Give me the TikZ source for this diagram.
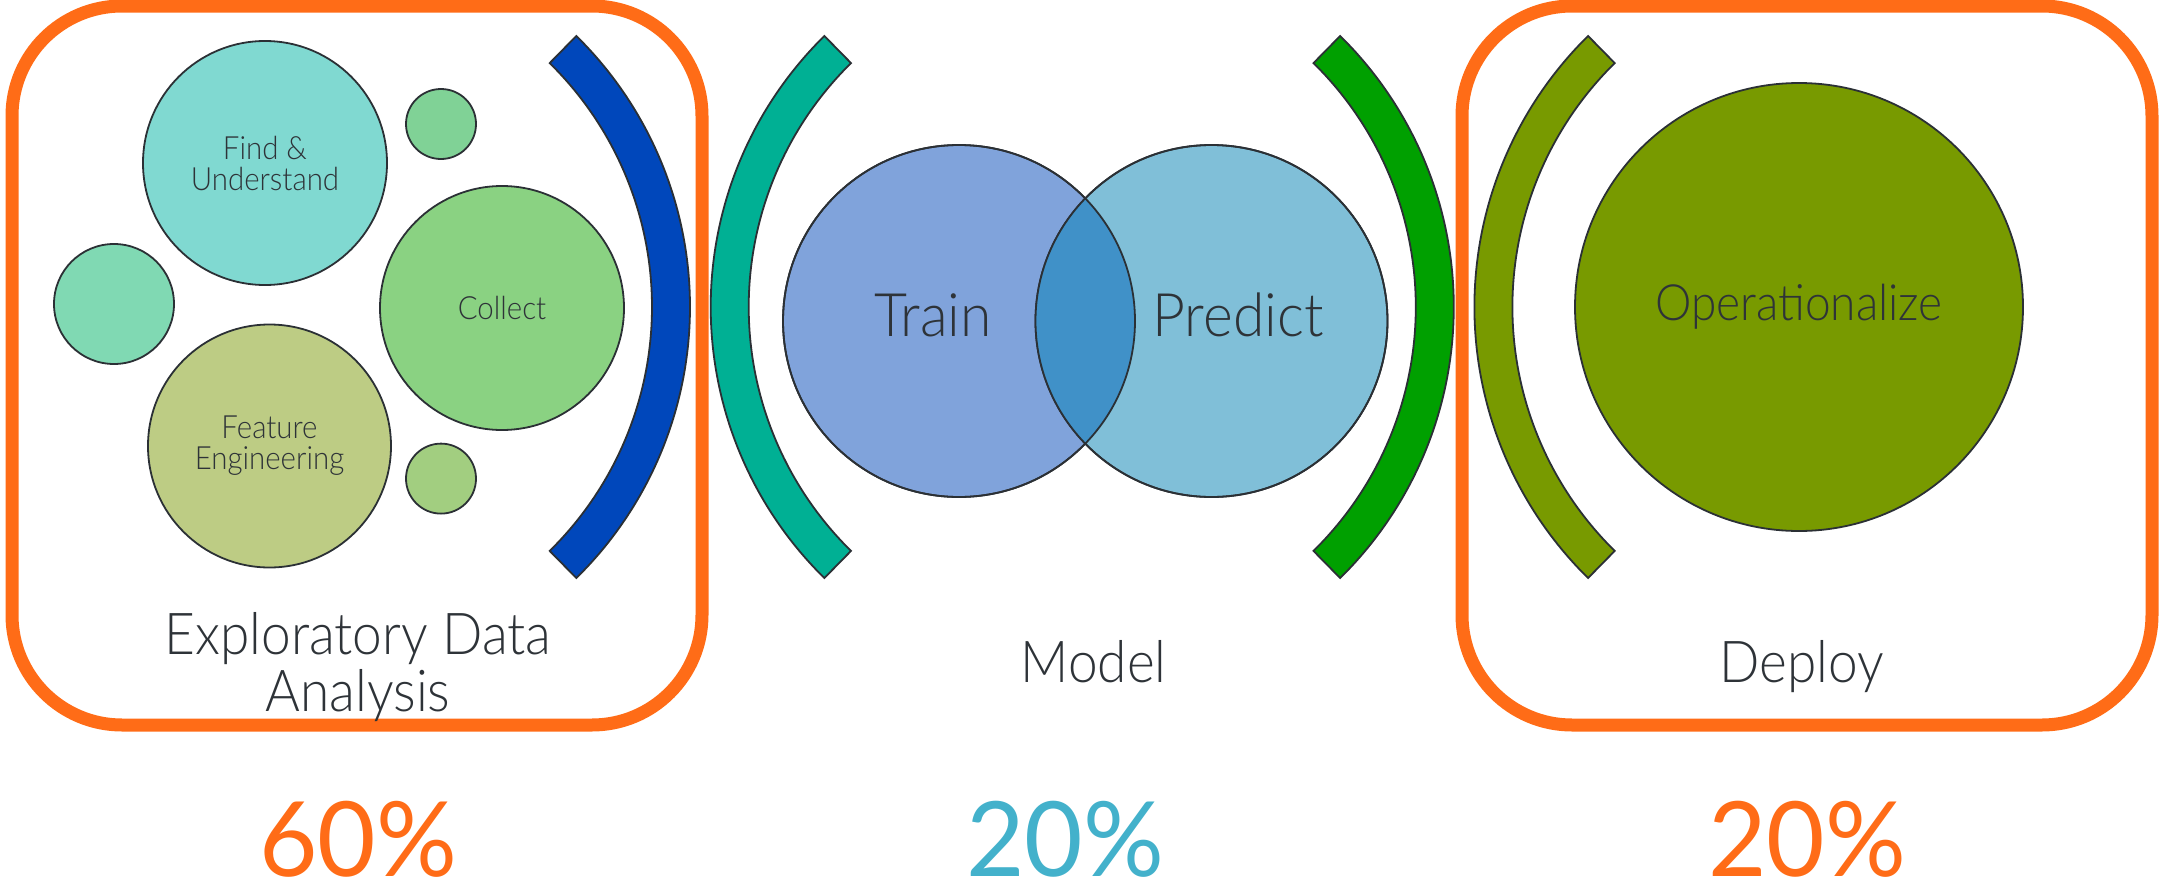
\documentclass[tikz,border=0pt]{standalone}
\usepackage{fontspec}
\setmainfont{Lato}
\newfontfamily\lightf{Lato Light}[FakeStretch=0.92]
\newfontfamily\lightt{Lato Light}[FakeStretch=0.95]
\newfontfamily\regf{Lato}[FakeStretch=0.97]
\definecolor{orangec}{HTML}{FF6C17}
\definecolor{outline}{HTML}{2B3035}
\definecolor{textc}{HTML}{2E3338}
\definecolor{findc}{HTML}{80D9D1}
\definecolor{smallga}{HTML}{80D296}
\definecolor{leftcc}{HTML}{80D9B3}
\definecolor{collectc}{HTML}{8AD282}
\definecolor{featc}{HTML}{BDCC84}
\definecolor{smallgb}{HTML}{A2CE80}
\definecolor{bluec}{HTML}{0047BB}
\definecolor{tealc}{HTML}{00B094}
\definecolor{trainc}{HTML}{80A3DB}
\definecolor{predictc}{HTML}{80BFD8}
\definecolor{overlapc}{HTML}{4091C8}
\definecolor{greenc}{HTML}{00A000}
\definecolor{olivec}{HTML}{789A00}
\definecolor{pctteal}{HTML}{43B1CB}
\begin{document}
\begin{tikzpicture}[x=0.5pt,y=-0.5pt,
  outl/.style={draw=outline, line width=0.9pt},
  bubble/.style={circle, outl, inner sep=0pt, align=center, text=textc,
    font=\lightf\fontsize{16}{15.5}\selectfont},
  obox/.style={draw=orangec, line width=6.5pt, rounded corners=55pt, inner sep=0pt},
  lbl/.style={text=textc, font=\lightf\fontsize{28.9}{28.5}\selectfont, align=center, inner sep=0pt},
  vlbl/.style={text=textc, font=\lightt\fontsize{30}{30}\selectfont, inner sep=0pt, anchor=base},
  pct/.style={font=\regf\fontsize{52}{52}\selectfont, inner sep=0pt, anchor=base, text depth=0pt}
]
\useasboundingbox (0,0) rectangle (2160,884);
% boxes
\node[obox, minimum width=345pt, minimum height=359.5pt] (edabox) at (357,365.5) {};
\node[obox, minimum width=345pt, minimum height=359.5pt] (depbox) at (1807,365.5) {};
% brackets
\coordinate (bc1) at (310,307);
\coordinate (bc2) at (1090.7,307);
\coordinate (bc3) at (1073.8,307);
\coordinate (bc4) at (1854.4,307);
\draw[outl, fill=bluec] (bc1) ++(45.5:380) arc[start angle=45.5, end angle=-45.5, radius=380]
  -- ++(134.5:38) arc[start angle=-45.5, end angle=45.5, radius=342] -- cycle;
\draw[outl, fill=greenc] (bc3) ++(45.5:380) arc[start angle=45.5, end angle=-45.5, radius=380]
  -- ++(134.5:38) arc[start angle=-45.5, end angle=45.5, radius=342] -- cycle;
\draw[outl, fill=tealc] (bc2) ++(134.5:380) arc[start angle=134.5, end angle=225.5, radius=380]
  -- ++(45.5:38) arc[start angle=225.5, end angle=134.5, radius=342] -- cycle;
\draw[outl, fill=olivec] (bc4) ++(134.5:380) arc[start angle=134.5, end angle=225.5, radius=380]
  -- ++(45.5:38) arc[start angle=225.5, end angle=134.5, radius=342] -- cycle;
% EDA bubbles
\node[bubble, fill=smallga, minimum size=35pt] (sm1) at (441,124) {};
\node[bubble, fill=findc, minimum size=122pt] (find) at (265,163) {Find \&\\Understand};
\node[bubble, fill=leftcc, minimum size=60pt] (lc) at (114,304) {};
\node[bubble, fill=collectc, minimum size=122pt] (collect) at (502,308) {Collect};
\node[bubble, fill=featc, minimum size=121.5pt] (feat) at (269.5,446) {Feature\\Engineering};
\node[bubble, fill=smallgb, minimum size=35pt] (sm2) at (441,478.6) {};
% Venn
\node[circle, outl, fill=trainc, minimum size=176pt, inner sep=0pt] (train) at (959,321) {};
\node[circle, outl, fill=predictc, minimum size=176pt, inner sep=0pt] (predict) at (1211.5,321) {};
\begin{scope}
  \clip (train.center) circle[radius=176];
  \fill[overlapc] (predict.center) circle[radius=176];
\end{scope}
\draw[outl] (train.center) circle[radius=176];
\draw[outl] (predict.center) circle[radius=176];
\node[vlbl] (traint) at (933,336) {Train};
\node[vlbl] (predictt) at (1238,336) {Predict};
% Deploy
\node[circle, outl, fill=olivec, minimum size=224pt, inner sep=0pt, text=textc,
  font=\lightf\fontsize{25}{26}\selectfont] (oper) at (1799,307) {Operationalize};
% labels
\node[lbl, anchor=base] (edat) at (358,711) {Exploratory Data\\Analysis};
\node[lbl, anchor=base] (modelt) at (1093.5,682) {Model};
\node[lbl, anchor=base] (deployt) at (1801.6,682) {Deploy};
\node[pct, text=orangec] (p1) at (358,876) {60\%};
\node[pct, text=pctteal] (p2) at (1065,876) {20\%};
\node[pct, text=orangec] (p3) at (1807,876) {20\%};
\end{tikzpicture}
\end{document}
